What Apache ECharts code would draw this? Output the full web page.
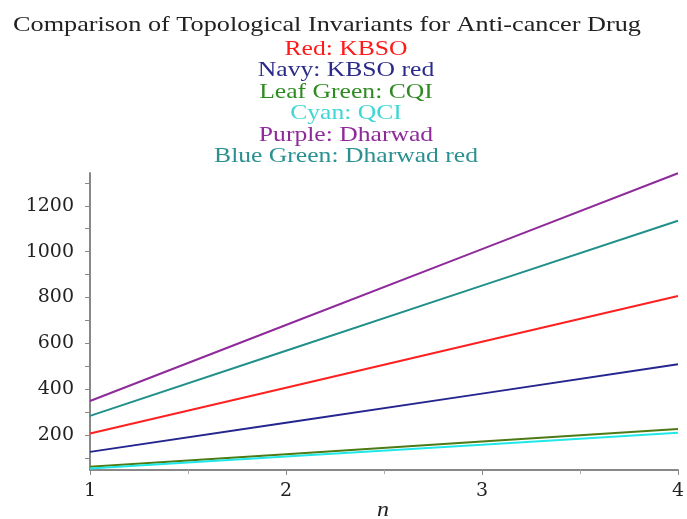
<!DOCTYPE html>
<html><head><meta charset="utf-8">
<script src="https://cdn.jsdelivr.net/npm/echarts@6/dist/echarts.min.js"></script>
<style>html,body{margin:0;padding:0;background:#fff}#c{width:687px;height:519px}</style>
</head><body><div id="c"></div>
<script>
var nValues = [1, 2, 3, 4];
var kbso = [207, 407, 607, 807];
var kbsoRed = [127, 254, 381, 509];
var cqi = [62, 117, 172, 227];
var qci = [55, 107, 158, 210];
var dharwad = [349, 680, 1011, 1342];
var dharwadRed = [284, 568, 852, 1135];
var yLabels = [200, 400, 600, 800, 1000, 1200];
var yTicks = [100, 200, 300, 400, 500, 600, 700, 800, 900, 1000, 1100, 1200, 1300];
var titleText = 'Comparison of Topological Invariants for Anti-cancer Drug';
var legendLines = ['Red: KBSO', 'Navy: KBSO red', 'Leaf Green: CQI', 'Cyan: QCI', 'Purple: Dharwad', 'Blue Green: Dharwad red'];
var legendColors = ['#ff1a1a', '#2a2a8a', '#2e8b22', '#3fd6d6', '#8e2a9a', '#2a9090'];

var seriesDefs = [
  {name: 'KBSO', data: kbso, color: '#ff2020'},
  {name: 'KBSO red', data: kbsoRed, color: '#25258f'},
  {name: 'CQI', data: cqi, color: '#4d7a14'},
  {name: 'QCI', data: qci, color: '#20e8e8'},
  {name: 'Dharwad', data: dharwad, color: '#8e2a9a'},
  {name: 'Dharwad red', data: dharwadRed, color: '#209088'}
];
var order = [2, 3, 1, 0, 5, 4];
var font = '"Liberation Serif", "Times New Roman", serif';
var axisFont = '"DejaVu Serif", serif';
var chart = echarts.init(document.getElementById('c'), null, {renderer: 'canvas'});
var graphics = [{type: 'text', x: 327, y: 25, scaleX: 1.25, style: {text: titleText, font: '21px ' + font, fill: '#222', textAlign: 'center', textVerticalAlign: 'middle'}}];
legendLines.forEach(function (t, i) {
  graphics.push({type: 'text', x: 346, y: 49.5 + i * 21.4, scaleX: 1.22, style: {text: t, font: '21px ' + font, fill: legendColors[i], textAlign: 'center', textVerticalAlign: 'middle'}});
});
graphics.push({type: 'text', x: 383, y: 511, scaleX: 1.2, style: {text: 'n', font: 'italic 20px ' + font, fill: '#222', textAlign: 'center', textVerticalAlign: 'middle'}});
chart.setOption({
  animation: false,
  grid: {left: 90, right: 7, top: 173, bottom: 49, containLabel: false},
  graphic: graphics,
  xAxis: {
    type: 'value', min: 1, max: 4, interval: 1,
    axisLine: {lineStyle: {color: '#888', width: 2}},
    axisTick: {show: true, length: 5, lineStyle: {color: '#888', width: 1}},
    minorTick: {show: true, splitNumber: 2, length: 4, lineStyle: {color: '#aaa'}},
    splitLine: {show: false},
    axisLabel: {color: '#222', fontFamily: axisFont, fontSize: 19, margin: 12, formatter: function (v) { return String(v); }}
  },
  yAxis: {
    type: 'value', min: 48, max: 1343,
    axisLine: {show: true, lineStyle: {color: '#888', width: 2}},
    axisTick: {show: true, length: 5, customValues: yTicks, lineStyle: {color: '#888', width: 1}},
    splitLine: {show: false},
    axisLabel: {color: '#222', fontFamily: axisFont, fontSize: 19, margin: 16, customValues: yLabels, formatter: function (v) { return String(v); }}
  },
  series: order.map(function (k) {
    var s = seriesDefs[k];
    return {
      type: 'line', name: s.name, showSymbol: false, symbol: 'none',
      data: nValues.map(function (n, i) { return [n, s.data[i]]; }),
      lineStyle: {color: s.color, width: 2}, itemStyle: {color: s.color}
    };
  })
});
</script></body></html>
